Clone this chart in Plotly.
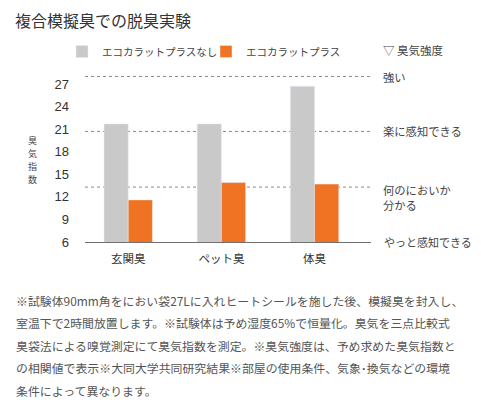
import plotly.graph_objects as go

# data
categories = ["玄関臭", "ペット臭", "体臭"]
without_ecocarat = [21.7, 21.7, 26.7]
with_ecocarat = [11.6, 13.9, 13.7]
y_ticks = [6, 9, 12, 15, 18, 21, 24, 27]
intensity_levels = [13.3, 20.7, 28.0]
intensity_labels = ["何のにおいか<br>分かる", "楽に感知できる", "強い"]
notes = [
    "※試験体90mm角をにおい袋27Lに入れヒートシールを施した後、模擬臭を封入し、",
    "室温下で2時間放置します。※試験体は予め湿度65%で恒量化。臭気を三点比較式",
    "臭袋法による嗅覚測定にて臭気指数を測定。※臭気強度は、予め求めた臭気指数と",
    "の相関値で表示※大同大学共同研究結果※部屋の使用条件、気象･換気などの環境",
    "条件によって異なります。",
]

# the page body adds an 8px margin, so the figure is laid out 8px smaller
OFF = 8
W, H = 481 - OFF, 408 - OFF
PLOT_X0, PLOT_X1, PLOT_Y0, PLOT_Y1 = 85, 371, 69, 242   # plot area in page pixels
L, T = PLOT_X0 - OFF, PLOT_Y0 - OFF
R, B = W - (PLOT_X1 - OFF), H - (PLOT_Y1 - OFF)
JP = "Noto Sans CJK JP"
GRAY = "#c9c9c9"
ORANGE = "#f07323"
TEXT = "#444444"


def px_x(x):
    return (x - PLOT_X0) / (PLOT_X1 - PLOT_X0)


def px_y(y):
    return (PLOT_Y1 - y) / (PLOT_Y1 - PLOT_Y0)


fig = go.Figure()
fig.add_trace(go.Bar(x=categories, y=without_ecocarat, name="エコカラットプラスなし",
                     marker_color=GRAY, legend="legend", showlegend=True))
fig.add_trace(go.Bar(x=categories, y=with_ecocarat, name="エコカラットプラス",
                     marker_color=ORANGE, legend="legend2", showlegend=True))

for lvl in intensity_levels:
    fig.add_shape(type="line", xref="paper", x0=0, x1=1, yref="y", y0=lvl, y1=lvl,
                  line=dict(color="#8a8a8a", width=1, dash="dot"), layer="below")

annotations = []
annotations.append(dict(text="複合模擬臭での脱臭実験", x=px_x(14), y=px_y(20),
                        xanchor="left", yanchor="middle", borderpad=0,
                        font=dict(family=JP, size=16, color="#333333")))
annotations.append(dict(text="▽ 臭気強度", x=px_x(381), y=px_y(50),
                        xanchor="left", yanchor="middle",
                        font=dict(family=JP, size=11.5, color=TEXT)))
for lvl, lab in zip(intensity_levels, intensity_labels):
    a = dict(text=lab, x=px_x(381), xanchor="left", align="left",
             font=dict(family=JP, size=11.3, color=TEXT))
    if "<br>" in lab:
        a.update(y=px_y(180), yanchor="top")
    else:
        a.update(yref="y", y=lvl, yanchor="middle")
    annotations.append(a)
annotations.append(dict(text="やっと感知できる", x=px_x(382), y=px_y(242.5),
                        xanchor="left", yanchor="middle",
                        font=dict(family=JP, size=11, color=TEXT)))
# y axis title, written upright one character per row
for i, ch in enumerate("臭気指数"):
    annotations.append(dict(text=ch, x=px_x(32), y=px_y(140.2 + 13.2 * i),
                            xanchor="center", yanchor="middle", borderpad=0,
                            font=dict(family=JP, size=9, color=TEXT)))
for i, line in enumerate(notes):
    annotations.append(dict(text=line, x=px_x(14), y=px_y(300 + 22.5 * i),
                            xanchor="left", yanchor="middle",
                            font=dict(family=JP, size=11.9, color="#555555")))
for a in annotations:
    a.setdefault("xref", "paper")
    a.setdefault("yref", "paper")
    a["showarrow"] = False

legend_style = dict(orientation="h", yanchor="middle", xanchor="left",
                    bgcolor="rgba(0,0,0,0)", font=dict(family=JP, size=10.5, color=TEXT))

fig.update_layout(
    width=W, height=H,
    margin=dict(l=L, r=R, t=T, b=B, autoexpand=False),
    paper_bgcolor="white", plot_bgcolor="white",
    showlegend=True,
    barmode="group", bargap=0.48, bargroupgap=0,
    annotations=annotations,
    legend=dict(x=px_x(62), y=px_y(51.5), **legend_style),
    legend2=dict(x=px_x(206), y=px_y(51.5), **legend_style),
    xaxis=dict(range=[-0.464, 2.606], showline=True, linecolor="#707070", linewidth=1.3,
               ticks="", showgrid=False, ticklabelstandoff=6, automargin=False,
               tickfont=dict(family=JP, size=11.5, color="#333333")),
    yaxis=dict(range=[6, 29], tickvals=y_ticks, showgrid=False, zeroline=False,
               showline=False, ticks="", ticklabelstandoff=15, automargin=False,
               tickfont=dict(family="Liberation Sans", size=13, color="#333333")),
)

fig.write_html("out.html")
